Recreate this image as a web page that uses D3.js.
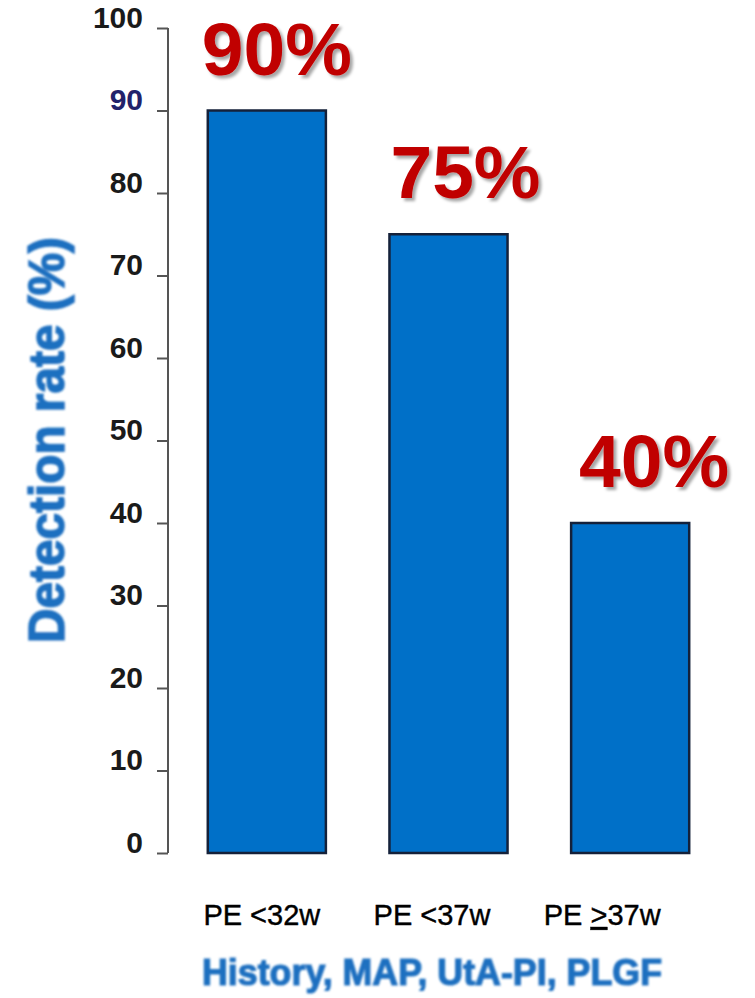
<!DOCTYPE html>
<html>
<head>
<meta charset="utf-8">
<script src="https://cdn.jsdelivr.net/npm/d3@7"></script>
<style>
  html, body { margin: 0; padding: 0; background: #fff; }
  svg { display: block; font-family: "Liberation Sans", Arial, sans-serif; }
</style>
</head>
<body>
<div id="chart"></div>
<script>
// chart data
const categories = ['PE <32w', 'PE <37w', 'PE >37w'];
const detectionRates = [90, 75, 40];
const valueLabels = ['90%', '75%', '40%'];
const yTicks = [0, 10, 20, 30, 40, 50, 60, 70, 80, 90, 100];

const width = 755;
const height = 998;

const svg = d3.select('#chart')
    .append('svg')
    .attr('width', width)
    .attr('height', height);

const defs = svg.append('defs');

// grey drop shadow behind the red percentages
const shadow = defs.append('filter')
    .attr('id', 'shadow')
    .attr('x', '-10%').attr('y', '-10%')
    .attr('width', '130%').attr('height', '130%');
shadow.append('feDropShadow')
    .attr('dx', 3).attr('dy', 3)
    .attr('stdDeviation', 1.5)
    .attr('flood-color', '#000')
    .attr('flood-opacity', 0.35);

// soft look of the blue titles
const soft = defs.append('filter').attr('id', 'soft');
soft.append('feGaussianBlur').attr('stdDeviation', 0.8);

// Scales
const x = d3.scaleBand()
    .domain(categories)
    .range([176, 721])
    .paddingInner(0.35)
    .paddingOuter(0.175);

const y = d3.scaleLinear()
    .domain([0, 100])
    .range([853, 28]);

// Y axis
const yAxis = svg.append('g')
    .attr('transform', 'translate(168,0)')
    .call(d3.axisLeft(y).tickValues(yTicks).tickSize(11).tickPadding(14));

yAxis.select('.domain')
    .attr('d', `M0,${y(100)}V${y(0)}`)
    .attr('stroke', '#555')
    .attr('stroke-width', 2);

yAxis.selectAll('.tick line')
    .attr('stroke', '#555')
    .attr('stroke-width', 2);

yAxis.selectAll('.tick text')
    .attr('dy', '-0.02em')
    .style('font-size', '30px')
    .style('font-weight', 'bold')
    .attr('fill', d => d === 90 ? '#22226a' : '#1a1a1a');

// Bars
svg.append('g')
    .selectAll('rect')
    .data(detectionRates)
    .enter()
    .append('rect')
    .attr('x', (d, i) => x(categories[i]))
    .attr('y', d => y(d))
    .attr('width', x.bandwidth())
    .attr('height', d => y(0) - y(d))
    .attr('fill', '#0070c8')
    .attr('stroke', '#14213a')
    .attr('stroke-width', 2.5);

// Value labels above bars
svg.append('g')
    .selectAll('text')
    .data(detectionRates)
    .enter()
    .append('text')
    .attr('x', (d, i) => x(categories[i]) + x.bandwidth() / 2 + 10 + i * 7)
    .attr('y', d => y(d) - 36)
    .attr('text-anchor', 'middle')
    .attr('fill', '#c00000')
    .attr('filter', 'url(#shadow)')
    .style('font-size', '75px')
    .style('font-weight', 'bold')
    .text((d, i) => valueLabels[i]);

// Category labels
const catLabels = svg.append('g')
    .selectAll('text')
    .data(categories)
    .enter()
    .append('text')
    .attr('x', (d, i) => x(d) + x.bandwidth() / 2 - 5 - i * 11.5)
    .attr('y', 925)
    .attr('text-anchor', 'middle')
    .attr('fill', '#000')
    .attr('stroke', '#000')
    .attr('stroke-width', 0.4)
    .style('font-size', '29px');

catLabels.each(function (d) {
    const text = d3.select(this);
    const m = d.match(/^(PE )(>)(.*)$/);
    if (m) {
        // the ">" is underlined to read as "greater or equal"
        text.append('tspan').text(m[1]);
        text.append('tspan').text(m[2])
            .style('text-decoration', 'underline')
            .style('text-decoration-color', '#888');
        text.append('tspan').text(m[3]);
    } else {
        text.text(d);
    }
});

// Y axis title
svg.append('text')
    .attr('transform', `translate(64,${440}) rotate(-90)`)
    .attr('text-anchor', 'middle')
    .attr('fill', '#1f6fc0')
    .attr('stroke', '#1f6fc0')
    .attr('stroke-width', 1.5)
    .attr('filter', 'url(#soft)')
    .attr('textLength', 406)
    .attr('lengthAdjust', 'spacingAndGlyphs')
    .style('font-size', '50px')
    .style('font-weight', 'bold')
    .text('Detection  rate (%)');

// Bottom title
svg.append('text')
    .attr('x', 432)
    .attr('y', 985)
    .attr('text-anchor', 'middle')
    .attr('fill', '#1f6fc0')
    .attr('stroke', '#1f6fc0')
    .attr('stroke-width', 1.2)
    .attr('filter', 'url(#soft)')
    .attr('textLength', 460)
    .attr('lengthAdjust', 'spacingAndGlyphs')
    .style('font-size', '37px')
    .style('font-weight', 'bold')
    .text('History, MAP, UtA-PI, PLGF');
</script>
</body>
</html>
